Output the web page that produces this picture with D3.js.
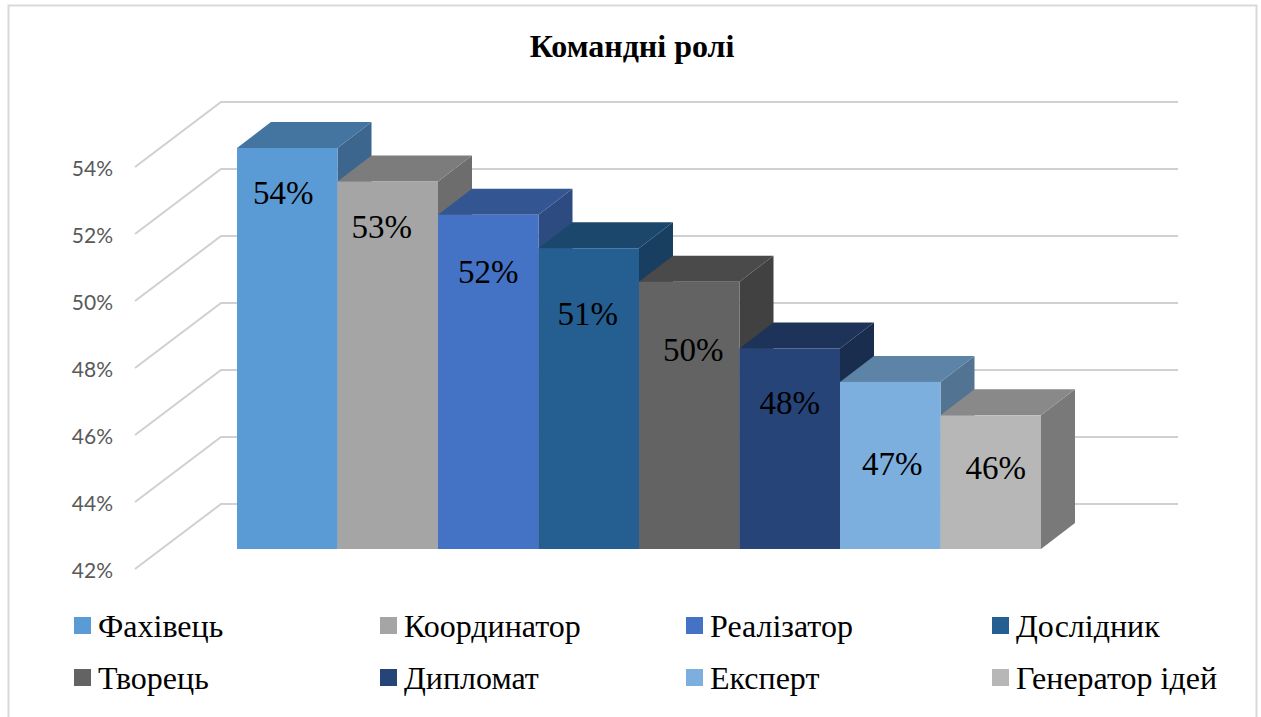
<!DOCTYPE html>
<html>
<head>
<meta charset="utf-8">
<script src="https://cdn.jsdelivr.net/npm/d3@7"></script>
<style>
  html, body { margin: 0; padding: 0; background: #fff; overflow: hidden; }
</style>
</head>
<body>
<div id="chart"></div>
<script>
var roles = ["Фахівець", "Координатор", "Реалізатор", "Дослідник", "Творець", "Дипломат", "Експерт", "Генератор ідей"];
var shares = [54, 53, 52, 51, 50, 48, 47, 46];
var roleColors = ["#5B9BD5", "#A5A5A5", "#4472C4", "#255E91", "#636363", "#264478", "#7CAFDD", "#B7B7B7"];
var tickValues = [42, 44, 46, 48, 50, 52, 54];
var chartTitle = "Командні ролі";

// the labels sit wherever the original left them, so nudges are kept apart
var labelDx = [-4, -6, 0, -1, 4, 0, 2, 5];
var labelDy = [44, 45, 57, 65, 68, 54, 82, 52];

var width = 1261,
	height = 717;

var depthX = 34,
	depthY = -26;

var serif = "'Liberation Serif', serif";

var svg = d3.select("#chart")
	.append("svg")
	.attr("width", width)
	.attr("height", height)
	.style("display", "block");

// page frame
svg.append("path")
	.attr("d", "M8.5,717V5.5H1256.5V717")
	.attr("fill", "none")
	.attr("stroke", "#d9d9d9")
	.attr("stroke-width", 2);

svg.append("text")
	.attr("x", 632)
	.attr("y", 57)
	.attr("text-anchor", "middle")
	.style("font-family", serif)
	.style("font-weight", "bold")
	.style("font-size", "32px")
	.text(chartTitle);

// front plane of the bars and back wall of the chart
var x = d3.scaleBand().domain(roles).range([237, 1041]);
var yFront = d3.scaleLinear().domain([42, 54]).range([549, 148]);
var yBack = d3.scaleLinear().domain([42, 54]).range([504, 102]);

var grid = svg.append("g").attr("class", "grid");

grid.selectAll("polyline")
	.data(tickValues)
	.enter().append("polyline")
	.attr("points", function(d) {
		return [[135, yBack(d) + 65], [221, yBack(d)], [1178, yBack(d)]].join(" ");
	})
	.attr("fill", "none")
	.attr("stroke", "#d0d0d0")
	.attr("stroke-width", 2);

grid.selectAll("text")
	.data(tickValues)
	.enter().append("text")
	.attr("x", 113)
	.attr("y", function(d) { return yBack(d) + 67; })
	.attr("dy", "0.35em")
	.attr("text-anchor", "end")
	.attr("fill", "#595959")
	.style("font-family", "Lato, sans-serif")
	.style("font-size", "21px")
	.text(function(d) { return d + "%"; });

// top and side are the front colour with some black mixed in
function shade(color, k) {
	var c = d3.rgb(color);
	return d3.rgb(c.r * k, c.g * k, c.b * k).formatHex();
}

var bars = svg.selectAll("g.bar")
	.data(roles)
	.enter().append("g")
	.attr("class", "bar");

bars.append("path")
	.attr("fill", function(d, i) { return shade(roleColors[i], 0.66); })
	.attr("d", function(d, i) {
		var r = x(d) + x.bandwidth(), t = yFront(shares[i]), b = yFront(42);
		return "M" + r + "," + t + "l" + depthX + "," + depthY + "V" + (b + depthY) + "l" + (-depthX) + "," + (-depthY) + "Z";
	});

bars.append("path")
	.attr("fill", function(d, i) { return shade(roleColors[i], 0.75); })
	.attr("d", function(d, i) {
		var l = x(d), t = yFront(shares[i]), w = x.bandwidth();
		return "M" + l + "," + t + "l" + depthX + "," + depthY + "h" + w + "l" + (-depthX) + "," + (-depthY) + "Z";
	});

bars.append("rect")
	.attr("x", function(d) { return x(d); })
	.attr("y", function(d, i) { return yFront(shares[i]); })
	.attr("width", x.bandwidth())
	.attr("height", function(d, i) { return yFront(42) - yFront(shares[i]); })
	.attr("fill", function(d, i) { return roleColors[i]; });

// value labels go on top of every bar
svg.selectAll("text.value")
	.data(roles)
	.enter().append("text")
	.attr("class", "value")
	.attr("x", function(d, i) { return x(d) + x.bandwidth() / 2 + labelDx[i]; })
	.attr("y", function(d, i) { return yFront(shares[i]) + labelDy[i]; })
	.attr("dy", "0.35em")
	.attr("text-anchor", "middle")
	.style("font-family", serif)
	.style("font-size", "33px")
	.text(function(d, i) { return shares[i] + "%"; });

// legend, four columns by two rows
var legendX = d3.scalePoint().domain(d3.range(4)).range([74, 992]);
var legendY = d3.scalePoint().domain(d3.range(2)).range([617, 669]);

var legend = svg.selectAll("g.legend")
	.data(roles)
	.enter().append("g")
	.attr("class", "legend")
	.attr("transform", function(d, i) {
		return "translate(" + legendX(i % 4) + "," + legendY(Math.floor(i / 4)) + ")";
	});

legend.append("rect")
	.attr("width", 17)
	.attr("height", 17)
	.attr("fill", function(d, i) { return roleColors[i]; });

legend.append("text")
	.attr("x", 24)
	.attr("y", 20)
	.style("font-family", serif)
	.style("font-size", "32px")
	.text(function(d) { return d; });
</script>
</body>
</html>
